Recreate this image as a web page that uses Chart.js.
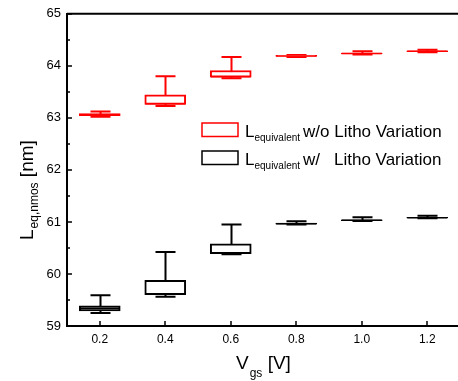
<!DOCTYPE html>
<html>
<head>
<meta charset="utf-8">
<script src="https://cdn.jsdelivr.net/npm/chart.js@4.4.1/dist/chart.umd.min.js"></script>
<style>
  html, body { margin: 0; padding: 0; background: #fff; overflow: hidden; }
  #wrap { width: 462px; height: 381px; }
</style>
</head>
<body>
<div id="wrap"><canvas id="boxChart" width="462" height="381"></canvas></div>
<script>
// Vgs positions
const vgs = [0.2, 0.4, 0.6, 0.8, 1.0, 1.2];

// L_equivalent w/o Litho Variation (red)
const woMin    = [63.02, 63.23, 63.76, 64.17, 64.22, 64.26];
const woQ1     = [63.04, 63.26, 63.78, 64.18, 64.23, 64.27];
const woMedian = [63.06, 63.27, 63.79, 64.19, 64.235, 64.28];
const woQ3     = [63.08, 63.445, 63.91, 64.20, 64.245, 64.29];
const woMax    = [63.12, 63.80, 64.17, 64.21, 64.28, 64.31];

// L_equivalent w/ Litho Variation (black)
const wMin    = [59.25, 59.56, 60.38, 60.95, 61.02, 61.07];
const wQ1     = [59.29, 59.60, 60.39, 60.955, 61.025, 61.075];
const wMedian = [59.34, 59.61, 60.40, 60.965, 61.03, 61.08];
const wQ3     = [59.39, 59.88, 60.58, 60.98, 61.04, 61.09];
const wMax    = [59.59, 60.42, 60.95, 61.015, 61.09, 61.12];

// ticks
const xTicks = [0.2, 0.4, 0.6, 0.8, 1.0, 1.2];
const yTicks = [59, 60, 61, 62, 63, 64, 65];
const yMinorTicks = [59.5, 60.5, 61.5, 62.5, 63.5, 64.5];

const FONT = "'Liberation Sans', Arial, sans-serif";

const boxes = [
    { color: '#ff0000', min: woMin, q1: woQ1, med: woMedian, q3: woQ3, max: woMax },
    { color: '#000000', min: wMin, q1: wQ1, med: wMedian, q3: wQ3, max: wMax }
];

// whiskers go under the boxes, medians over them
const whiskerPlugin = {
    id: 'whiskers',
    beforeDatasetsDraw(chart) {
        const ctx = chart.ctx, xs = chart.scales.x, ys = chart.scales.y;
        const cap = 10;
        ctx.save();
        ctx.lineWidth = 2;
        boxes.forEach(b => {
            ctx.strokeStyle = b.color;
            vgs.forEach((v, i) => {
                const px = Math.round(xs.getPixelForValue(v)) + 0.5;
                const yHi = ys.getPixelForValue(b.max[i]);
                const yLo = ys.getPixelForValue(b.min[i]);
                ctx.beginPath();
                ctx.moveTo(px, yHi); ctx.lineTo(px, yLo);
                ctx.moveTo(px - cap, yHi); ctx.lineTo(px + cap, yHi);
                ctx.moveTo(px - cap, yLo); ctx.lineTo(px + cap, yLo);
                ctx.stroke();
            });
        });
        ctx.restore();
    },
    afterDatasetsDraw(chart) {
        const ctx = chart.ctx, xs = chart.scales.x, ys = chart.scales.y;
        const half = 20;
        ctx.save();
        ctx.lineWidth = 1.5;
        boxes.forEach(b => {
            ctx.strokeStyle = b.color;
            vgs.forEach((v, i) => {
                const px = xs.getPixelForValue(v);
                const py = ys.getPixelForValue(b.med[i]);
                ctx.beginPath();
                ctx.moveTo(px - half, py); ctx.lineTo(px + half, py);
                ctx.stroke();
            });
        });
        ctx.restore();
    }
};

// frame top line, inward ticks, axis titles and the legend
const decorPlugin = {
    id: 'decor',
    afterDraw(chart) {
        const ctx = chart.ctx, xs = chart.scales.x, ys = chart.scales.y;
        const a = chart.chartArea;
        ctx.save();
        ctx.strokeStyle = '#000';
        ctx.lineWidth = 2;
        ctx.beginPath();
        ctx.moveTo(a.left, a.top); ctx.lineTo(a.right, a.top);
        ctx.stroke();

        ctx.lineWidth = 1.5;
        ctx.beginPath();
        yTicks.forEach(v => {
            const py = Math.round(ys.getPixelForValue(v));
            ctx.moveTo(a.left, py); ctx.lineTo(a.left + 5, py);
        });
        yMinorTicks.forEach(v => {
            const py = Math.round(ys.getPixelForValue(v));
            ctx.moveTo(a.left, py); ctx.lineTo(a.left + 3, py);
        });
        xTicks.forEach(v => {
            const px = Math.round(xs.getPixelForValue(v));
            ctx.moveTo(px, a.bottom); ctx.lineTo(px, a.bottom - 5);
        });
        ctx.stroke();

        ctx.fillStyle = '#000';
        ctx.textBaseline = 'alphabetic';
        ctx.textAlign = 'left';

        // x title: V_gs [V]
        let x = 236;
        ctx.font = '19px ' + FONT;
        ctx.fillText('V', x, 369); x += ctx.measureText('V').width + 1;
        ctx.font = '12px ' + FONT;
        ctx.fillText('gs', x, 377); x += ctx.measureText('gs').width;
        ctx.font = '19px ' + FONT;
        ctx.fillText(' [V]', x, 369);

        // y title: L_eq,nmos [nm]
        ctx.save();
        ctx.translate(33, 240);
        ctx.rotate(-Math.PI / 2);
        x = 0;
        ctx.font = '19px ' + FONT;
        ctx.fillText('L', x, 0); x += ctx.measureText('L').width + 1;
        ctx.font = '12px ' + FONT;
        ctx.fillText('eq,nmos', x, 5); x += ctx.measureText('eq,nmos').width;
        ctx.font = '19px ' + FONT;
        ctx.fillText(' [nm]', x, 0);
        ctx.restore();

        // legend
        const rows = [
            { color: '#ff0000', top: 123, base: 136.5, parts: [['w/o Litho Variation', 303]] },
            { color: '#000000', top: 151, base: 164.5, parts: [['w/', 303], ['Litho Variation', 334]] }
        ];
        rows.forEach(r => {
            ctx.lineWidth = 1.5;
            ctx.strokeStyle = r.color;
            ctx.strokeRect(202, r.top, 36, 13.5);
            let lx = 245;
            ctx.font = '17px ' + FONT;
            ctx.fillText('L', lx, r.base); lx += ctx.measureText('L').width;
            ctx.font = '10px ' + FONT;
            ctx.fillText('equivalent', lx, r.base + 4);
            ctx.font = '17px ' + FONT;
            r.parts.forEach(p => ctx.fillText(p[0], p[1], r.base));
        });
        ctx.restore();
    }
};

function boxData(q1, q3) {
    return vgs.map((v, i) => ({ x: v, y: [q1[i], q3[i]] }));
}

new Chart(document.getElementById('boxChart'), {
    type: 'bar',
    data: {
        datasets: [
            {
                label: 'w/o Litho Variation',
                data: boxData(woQ1, woQ3),
                backgroundColor: '#ffffff',
                borderColor: '#ff0000',
                borderWidth: 2,
                borderSkipped: false,
                barThickness: 41,
                grouped: false
            },
            {
                label: 'w/ Litho Variation',
                data: boxData(wQ1, wQ3),
                backgroundColor: '#ffffff',
                borderColor: '#000000',
                borderWidth: 2,
                borderSkipped: false,
                barThickness: 41,
                grouped: false
            }
        ]
    },
    options: {
        responsive: false,
        animation: false,
        devicePixelRatio: 1,
        layout: { padding: { top: 8, right: 2, left: 0, bottom: 0 } },
        plugins: { legend: { display: false }, tooltip: { enabled: false } },
        scales: {
            x: {
                type: 'linear',
                min: 0.1,
                max: 1.3,
                offset: false,
                grid: { display: false, drawTicks: false },
                border: { display: true, color: '#000', width: 2 },
                afterBuildTicks: s => { s.ticks = xTicks.map(v => ({ value: v })); },
                afterFit: s => { s.height = 55; },
                ticks: {
                    padding: 6,
                    color: '#000',
                    font: { family: FONT, size: 12 },
                    maxRotation: 0,
                    callback: v => v.toFixed(1)
                }
            },
            y: {
                min: 59,
                max: 65,
                grid: { display: false, drawTicks: false },
                border: { display: true, color: '#000', width: 2 },
                afterBuildTicks: s => { s.ticks = yTicks.map(v => ({ value: v })); },
                afterFit: s => { s.width = 67; },
                ticks: {
                    padding: 6,
                    color: '#000',
                    font: { family: FONT, size: 13 },
                    callback: v => String(v)
                }
            }
        }
    },
    plugins: [whiskerPlugin, decorPlugin]
});
</script>
</body>
</html>
